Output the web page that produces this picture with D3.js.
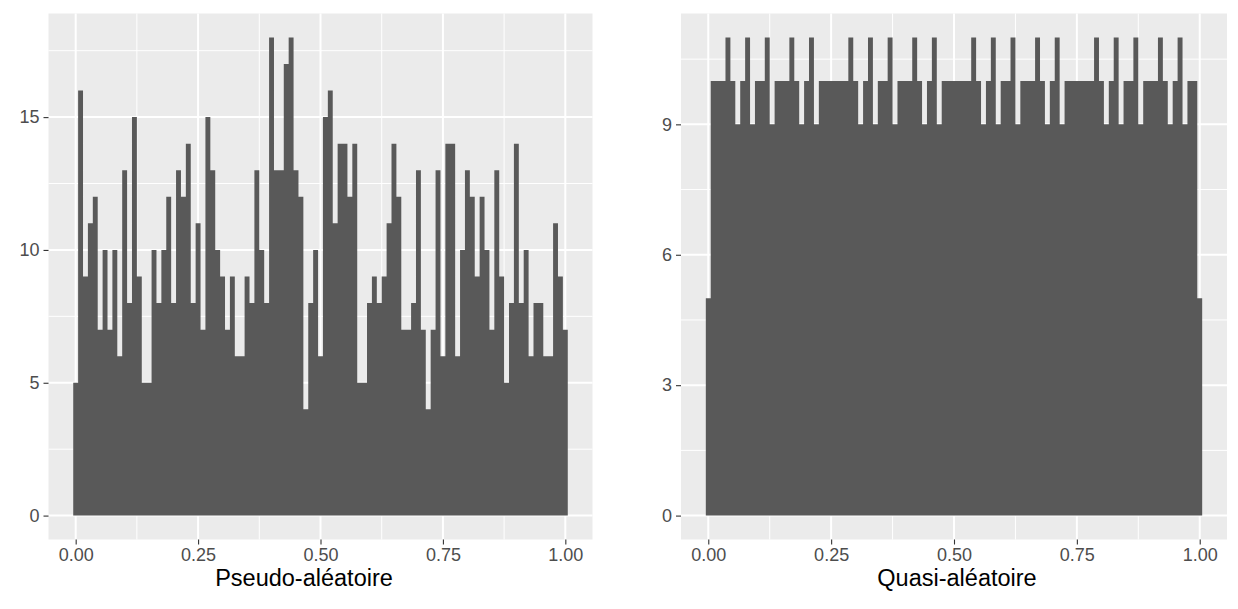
<!DOCTYPE html>
<html>
<head>
<meta charset="utf-8">
<script src="https://cdn.jsdelivr.net/npm/d3@7"></script>
<style>
  body { margin: 0; background: #fff; }
  svg { display: block; }
  text { font-family: "Liberation Sans", Arial, sans-serif; }
</style>
</head>
<body>
<script>
'use strict';

// counts per bin (binwidth 0.01, bins centred on 0, 0.01, ... 1)
var pseudoCounts = [
  5, 16, 9, 11, 12, 7, 10, 7, 10, 6,
  13, 8, 15, 9, 5, 5, 10, 8, 10, 12,
  8, 13, 12, 14, 8, 11, 7, 15, 13, 10,
  9, 7, 9, 6, 6, 9, 8, 13, 10, 8,
  18, 13, 13, 17, 18, 13, 12, 4, 8, 10,
  6, 15, 16, 11, 14, 14, 12, 14, 5, 5,
  8, 9, 8, 9, 11, 14, 12, 7, 7, 8,
  13, 7, 4, 7, 13, 6, 14, 14, 6, 10,
  13, 12, 9, 12, 10, 7, 13, 9, 5, 8,
  14, 8, 10, 6, 8, 8, 6, 6, 11, 9,
  7
];

var quasiCounts = [
  5, 10, 10, 10, 11, 10, 9, 10, 11, 9,
  10, 10, 11, 9, 10, 10, 10, 11, 10, 9,
  10, 11, 9, 10, 10, 10, 10, 10, 10, 11,
  10, 9, 10, 11, 9, 10, 10, 11, 9, 10,
  10, 10, 11, 10, 9, 10, 11, 9, 10, 10,
  10, 10, 10, 10, 11, 10, 9, 10, 11, 9,
  10, 10, 11, 9, 10, 10, 10, 11, 10, 9,
  10, 11, 9, 10, 10, 10, 10, 10, 10, 11,
  10, 9, 10, 11, 9, 10, 10, 11, 9, 10,
  10, 10, 11, 10, 9, 10, 11, 9, 10, 10,
  5
];

var binWidth = 0.01;
var xTicks = [0, 0.25, 0.5, 0.75, 1];
var xTickLabels = ['0.00', '0.25', '0.50', '0.75', '1.00'];
var pseudoYTicks = [0, 5, 10, 15];
var quasiYTicks = [0, 3, 6, 9];
var titles = ['Pseudo-aléatoire', 'Quasi-aléatoire'];

var W = 1238, H = 609;

var svg = d3.select('body').append('svg')
  .attr('width', W)
  .attr('height', H);

function midpoints(t) {
  var out = [];
  for (var i = 1; i < t.length; i++) out.push((t[i - 1] + t[i]) / 2);
  return out;
}

function panel(counts, yTicks, title, box) {
  var ymax = d3.max(counts);
  var xlo = -binWidth / 2, xhi = (counts.length - 0.5) * binWidth;
  var xpad = (xhi - xlo) * 0.05, ypad = ymax * 0.05;

  var x = d3.scaleLinear().domain([xlo - xpad, xhi + xpad]).range([box.left, box.right]);
  var y = d3.scaleLinear().domain([-ypad, ymax + ypad]).range([box.bottom, box.top]);

  var g = svg.append('g');

  g.append('rect')
    .attr('x', box.left).attr('y', box.top)
    .attr('width', box.right - box.left).attr('height', box.bottom - box.top)
    .attr('fill', '#EBEBEB');

  // minor grid
  var yMinor = midpoints(yTicks);
  yMinor.push(yTicks[yTicks.length - 1] + (yTicks[1] - yTicks[0]) / 2);
  g.selectAll('.ymin').data(yMinor).enter().append('line')
    .attr('x1', box.left).attr('x2', box.right)
    .attr('y1', function(d) { return y(d); }).attr('y2', function(d) { return y(d); })
    .attr('stroke', '#fff').attr('stroke-width', 1);
  g.selectAll('.xmin').data(midpoints(xTicks)).enter().append('line')
    .attr('y1', box.top).attr('y2', box.bottom)
    .attr('x1', function(d) { return x(d); }).attr('x2', function(d) { return x(d); })
    .attr('stroke', '#fff').attr('stroke-width', 1);

  // major grid
  g.selectAll('.ymaj').data(yTicks).enter().append('line')
    .attr('x1', box.left).attr('x2', box.right)
    .attr('y1', function(d) { return y(d); }).attr('y2', function(d) { return y(d); })
    .attr('stroke', '#fff').attr('stroke-width', 2);
  g.selectAll('.xmaj').data(xTicks).enter().append('line')
    .attr('y1', box.top).attr('y2', box.bottom)
    .attr('x1', function(d) { return x(d); }).attr('x2', function(d) { return x(d); })
    .attr('stroke', '#fff').attr('stroke-width', 2);

  // bars, drawn as one stepped area so neighbouring bins have no seams
  var steps = counts.map(function(n, i) { return { x0: (i - 0.5) * binWidth, n: n }; });
  steps.push({ x0: xhi, n: counts[counts.length - 1] });
  var area = d3.area()
    .x(function(d) { return x(d.x0); })
    .y0(y(0))
    .y1(function(d) { return y(d.n); })
    .curve(d3.curveStepAfter);
  g.append('path')
    .datum(steps)
    .attr('d', area)
    .attr('fill', '#595959');

  // axes
  var ax = g.append('g').attr('transform', 'translate(0,' + box.bottom + ')')
    .call(d3.axisBottom(x).tickValues(xTicks)
      .tickFormat(function(d, i) { return xTickLabels[i]; })
      .tickSize(5).tickPadding(4));
  var ay = g.append('g').attr('transform', 'translate(' + box.left + ',0)')
    .call(d3.axisLeft(y).tickValues(yTicks).tickSize(5).tickPadding(4));

  [ax, ay].forEach(function(a) {
    a.select('.domain').remove();
    a.selectAll('line').attr('stroke', '#333333').attr('stroke-width', 1.1);
    a.selectAll('text')
      .attr('fill', '#4D4D4D')
      .style('font-size', '18px')
      .style('font-family', '"Liberation Sans", Arial, sans-serif');
  });

  g.append('text')
    .attr('x', box.titleX)
    .attr('y', 586)
    .attr('text-anchor', 'middle')
    .attr('fill', '#000')
    .style('font-size', '23.5px')
    .text(title);
}

panel(pseudoCounts, pseudoYTicks, titles[0], { left: 48.5, right: 592.5, top: 13.5, bottom: 539.5, titleX: 304 });
panel(quasiCounts, quasiYTicks, titles[1], { left: 681, right: 1227, top: 13.5, bottom: 539.5, titleX: 957 });
</script>
</body>
</html>
